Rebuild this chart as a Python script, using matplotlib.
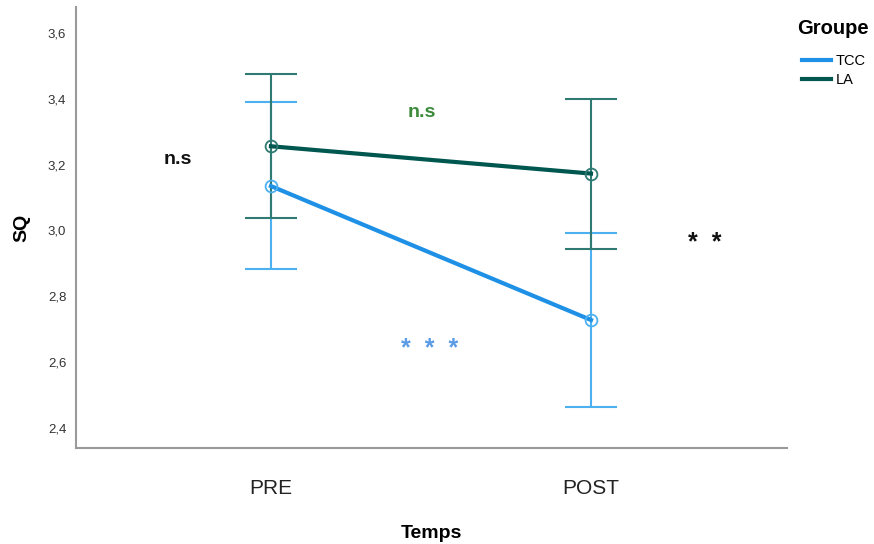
import matplotlib
matplotlib.use("Agg")
import matplotlib.pyplot as plt
from matplotlib.lines import Line2D

plt.rcParams["font.family"] = ["Liberation Sans", "DejaVu Sans"]

times = ["PRE", "POST"]
tcc_mean = [3.135, 2.728]
tcc_low = [2.882, 2.464]
tcc_high = [3.39, 2.992]
la_mean = [3.256, 3.173]
la_low = [3.038, 2.944]
la_high = [3.476, 3.40]
yticks = [2.4, 2.6, 2.8, 3.0, 3.2, 3.4, 3.6]

c_tcc = "#1E90E6"
c_tcc_err = "#4DB0F0"
c_la = "#00574F"
c_la_err = "#2F7A73"

fig = plt.figure(figsize=(8.74, 5.44), dpi=100)
ax = fig.add_axes([0.087, 0.1765, 0.8135, 0.8105])
x = list(range(len(times)))

for mean, lo, hi, c, ce in [(tcc_mean, tcc_low, tcc_high, c_tcc, c_tcc_err),
                            (la_mean, la_low, la_high, c_la, c_la_err)]:
    yerr = [[m - l for m, l in zip(mean, lo)], [h - m for m, h in zip(mean, hi)]]
    ax.errorbar(x, mean, yerr=yerr, fmt="none", ecolor=ce, elinewidth=1.5,
                capsize=18.5, capthick=1.5, zorder=2)
    ax.plot(x, mean, color=c, lw=3, zorder=3)
    ax.plot(x, mean, "o", mfc="none", mec=ce, ms=8.5, mew=1.3, zorder=4)

ax.set_xlim(-0.609, 1.6125)
ax.set_ylim(2.339, 3.679)
ax.set_xticks(x)
ax.set_xticklabels(times, fontsize=15, color="#222222")
ax.set_yticks(yticks)
ax.set_yticklabels([f"{v:.1f}".replace(".", ",") for v in yticks], fontsize=9.5, color="#333333")
ax.tick_params(axis="x", length=0, pad=22)
ax.tick_params(axis="y", length=0, pad=7)
for s in ["top", "right"]:
    ax.spines[s].set_visible(False)
for s in ["left", "bottom"]:
    ax.spines[s].set_color("#9a9a9a")
    ax.spines[s].set_linewidth(1.5)

ax.set_xlabel("Temps", fontsize=14, fontweight="bold", labelpad=20)
ax.set_ylabel("SQ", fontsize=14, fontweight="bold", labelpad=13)

ax.text(-0.29, 3.215, "n.s", fontsize=14, fontweight="bold", color="#111111", ha="center", va="center")
ax.text(0.47, 3.358, "n.s", fontsize=14, fontweight="bold", color="#3B8B3B", ha="center", va="center")
ax.text(0.495, 2.64, "*  *  *", fontsize=18, fontweight="bold", color="#5C9CE6", ha="center", va="center")
ax.text(1.355, 2.962, "*  *", fontsize=18, fontweight="bold", color="#111111", ha="center", va="center")

fig.text(797 / 874, 1 - 29 / 544, "Groupe", fontsize=14.5, fontweight="bold", ha="left", va="center")
handles = [Line2D([0], [0], color=c_tcc, lw=3), Line2D([0], [0], color=c_la, lw=3)]
leg = fig.legend(handles, ["TCC", "LA"], loc="upper left",
                 bbox_to_anchor=(790 / 874, 1 - 42 / 544), frameon=False, fontsize=10.5,
                 handlelength=2.0, handletextpad=0.35, labelspacing=0.35, borderpad=0.3)

fig.savefig("out.png", dpi=100)
